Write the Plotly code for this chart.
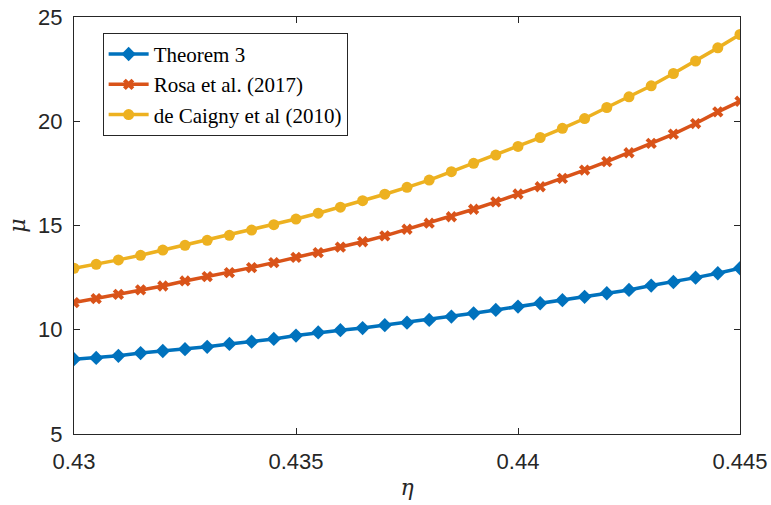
import plotly.graph_objects as go

eta = [0.43 + 0.0005 * i for i in range(31)]
eta = [round(v, 4) for v in eta]

theorem3 = [8.59, 8.65, 8.75, 8.88, 8.98, 9.07, 9.18, 9.32, 9.43, 9.56,
            9.72, 9.87, 9.98, 10.08, 10.22, 10.34, 10.47, 10.63, 10.79, 10.95,
            11.11, 11.27, 11.42, 11.58, 11.75, 11.91, 12.12, 12.29, 12.50, 12.71,
            12.95]
rosa2017 = [11.30, 11.49, 11.70, 11.91, 12.10, 12.34, 12.55, 12.74, 12.98, 13.22,
            13.47, 13.70, 13.96, 14.22, 14.50, 14.82, 15.11, 15.42, 15.78, 16.13,
            16.51, 16.86, 17.26, 17.66, 18.06, 18.49, 18.94, 19.38, 19.89, 20.45,
            20.96]
caigny2010 = [12.95, 13.14, 13.35, 13.57, 13.82, 14.05, 14.29, 14.53, 14.78, 15.04,
              15.31, 15.59, 15.88, 16.19, 16.50, 16.83, 17.18, 17.58, 17.98, 18.38,
              18.79, 19.22, 19.66, 20.13, 20.66, 21.17, 21.70, 22.29, 22.89, 23.52,
              24.16]

series_names = ["Theorem 3", "Rosa et al. (2017)", "de Caigny et al (2010)"]
colors = ["#0072BD", "#D95319", "#EDB120"]
symbols = ["diamond", "x", "circle"]
msizes = [11, 10, 11]

xticks = [0.43, 0.435, 0.44, 0.445]
xticktext = ["0.43", "0.435", "0.44", "0.445"]
yticks = [5, 10, 15, 20, 25]

fig = go.Figure()
for name, ys, c, s, ms in zip(series_names, [theorem3, rosa2017, caigny2010], colors, symbols, msizes):
    fig.add_trace(go.Scatter(
        x=eta, y=ys, name=name, mode="lines+markers",
        line=dict(color=c, width=3.5),
        marker=dict(symbol=s, size=ms, color=c, line=dict(width=0)),
    ))

axis_common = dict(
    showline=True, linecolor="#262626", linewidth=1, mirror="ticks",
    ticks="inside", ticklen=6, tickwidth=1, tickcolor="#262626",
    showgrid=False, zeroline=False, automargin=False,
    tickfont=dict(family="Liberation Sans, Arial, sans-serif", size=22, color="#262626"),
)

fig.update_layout(
    width=771, height=505,
    margin=dict(l=74, r=31, t=17, b=71, autoexpand=False),
    paper_bgcolor="white", plot_bgcolor="white",
    xaxis=dict(range=[0.43, 0.445], tickvals=xticks, ticktext=xticktext,
               ticklabelstandoff=8,
               title=dict(text="<i>η</i>", standoff=6,
                          font=dict(family="DejaVu Serif, serif", size=22, color="#262626")),
               **axis_common),
    yaxis=dict(range=[5, 25], tickvals=yticks, ticklabelstandoff=6,
               title=dict(text="<i>μ</i>", standoff=6,
                          font=dict(family="DejaVu Serif, serif", size=22, color="#262626")),
               **axis_common),
    legend=dict(x=0.043, y=0.962, xanchor="left", yanchor="top",
                bgcolor="white", bordercolor="#262626", borderwidth=1,
                font=dict(family="Liberation Serif, Times New Roman, serif", size=21, color="#000000"),
                tracegroupgap=0, itemwidth=40, valign="middle"),
    showlegend=True,
)

fig.write_html("out.html",
               config={"displayModeBar": False},
               post_script="document.body.style.margin='0px';document.body.style.overflow='hidden';")
